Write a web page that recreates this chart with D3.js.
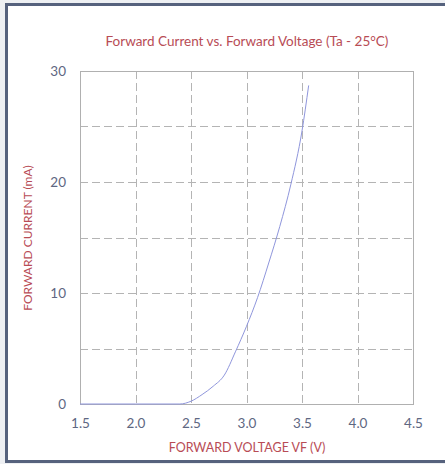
<!DOCTYPE html>
<html>
<head>
<meta charset="utf-8">
<script src="https://cdn.jsdelivr.net/npm/d3@7"></script>
<style>
  html, body { margin: 0; padding: 0; background: #eef0f3; }
  svg { display: block; }
</style>
</head>
<body>
<svg id="chart" width="445" height="464"></svg>
<script>
// Forward voltage (V) and forward current (mA) measured at Ta = 25°C
const voltage = [1.5, 2.0, 2.4, 2.5, 2.6, 2.7, 2.8, 2.9, 3.0, 3.1, 3.2, 3.3, 3.4, 3.5, 3.56];
const current = [0, 0, 0, 0.25, 0.85, 1.6, 2.6, 4.7, 7.0, 9.6, 12.7, 16.0, 19.8, 24.6, 28.7];

const xTicks = [1.5, 2.0, 2.5, 3.0, 3.5, 4.0, 4.5];
const yTicks = [0, 10, 20, 30];
const xGrid = [2.0, 2.5, 3.0, 3.5, 4.0];
const yGrid = [5, 10, 15, 20, 25];

const titleText = "Forward Current vs. Forward Voltage (Ta - 25°C)";
const xTitle = "FORWARD VOLTAGE VF (V)";
const yTitle = "FORWARD CURRENT (mA)";

const svg = d3.select("#chart");
const W = 445, H = 464;

// card frame
svg.append("rect").attr("x", 0).attr("y", 0).attr("width", W).attr("height", H).attr("fill", "#eef0f3");
svg.append("rect").attr("x", 6.5).attr("y", 4.5).attr("width", W + 10).attr("height", 457)
  .attr("fill", "#ffffff").attr("stroke", "#56627d").attr("stroke-width", 3);

const x = d3.scaleLinear().domain([1.5, 4.5]).range([80, 413]);
const y = d3.scaleLinear().domain([0, 30]).range([404, 71]);

const font = "Lato, 'Open Sans', sans-serif";

// grid
const grid = svg.append("g").attr("stroke", "#b4b4b4").attr("stroke-width", 1).attr("stroke-dasharray", "8,4");
grid.selectAll("line.v").data(xGrid).join("line")
  .attr("x1", d => Math.round(x(d)) + 0.5).attr("x2", d => Math.round(x(d)) + 0.5)
  .attr("y1", y(30)).attr("y2", y(0));
grid.selectAll("line.h").data(yGrid).join("line")
  .attr("y1", d => Math.round(y(d)) + 0.5).attr("y2", d => Math.round(y(d)) + 0.5)
  .attr("x1", x(1.5)).attr("x2", x(4.5));

// plot border
svg.append("rect")
  .attr("x", x(1.5) + 0.5).attr("y", y(30) + 0.5)
  .attr("width", x(4.5) - x(1.5)).attr("height", y(0) - y(30))
  .attr("fill", "none").attr("stroke", "#b0b0b0").attr("stroke-width", 1);

// axes
const xAxis = d3.axisBottom(x).tickValues(xTicks).tickFormat(d3.format(".1f")).tickSize(0).tickPadding(14);
const gx = svg.append("g").attr("transform", `translate(0,${y(0)})`).call(xAxis);
gx.select(".domain").remove();
gx.selectAll("text").attr("fill", "#5e6782").style("font-family", font).style("font-size", "13.5px");

const yAxis = d3.axisLeft(y).tickValues(yTicks).tickFormat(d3.format("d")).tickSize(0).tickPadding(14);
const gy = svg.append("g").attr("transform", `translate(${x(1.5)},0)`).call(yAxis);
gy.select(".domain").remove();
gy.selectAll("text").attr("fill", "#5e6782").style("font-family", font).style("font-size", "13.5px");

// curve
const pts = voltage.map((v, i) => [v, current[i]]);
svg.append("path")
  .datum(pts)
  .attr("fill", "none")
  .attr("stroke", "#8f96dc")
  .attr("stroke-width", 1)
  .attr("d", d3.line().x(d => x(d[0])).y(d => y(d[1])).curve(d3.curveMonotoneX));

// titles
svg.append("text").attr("x", 247).attr("y", 46).attr("text-anchor", "middle")
  .attr("fill", "#b84c55").style("font-family", font).style("font-size", "13.5px").text(titleText);
svg.append("text").attr("x", 247).attr("y", 452).attr("text-anchor", "middle")
  .attr("fill", "#b84c55").style("font-family", font).style("font-size", "12.5px").text(xTitle);
svg.append("text").attr("transform", "translate(32,238) rotate(-90)").attr("text-anchor", "middle")
  .attr("fill", "#b84c55").style("font-family", font).style("font-size", "12px").text(yTitle);
</script>
</body>
</html>
